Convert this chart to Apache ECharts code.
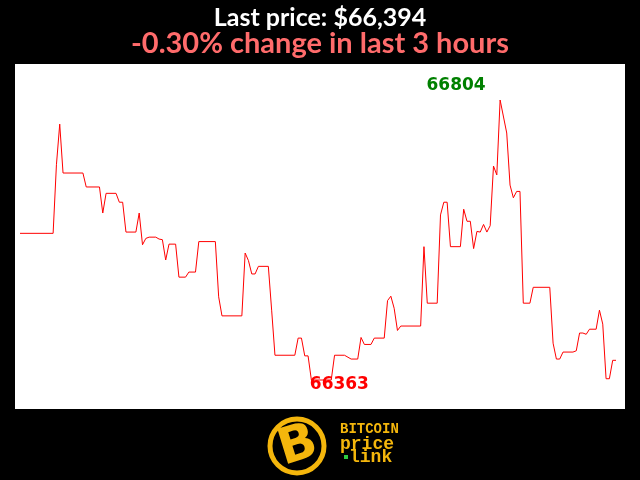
<!DOCTYPE html>
<html><head><meta charset="utf-8">
<script src="https://cdn.jsdelivr.net/npm/echarts@6/dist/echarts.min.js"></script>
<style>html,body{margin:0;padding:0;background:#000}#c{width:640px;height:480px}</style>
</head><body><div id="c"></div>
<script>
// minutes since start of the 3-hour window (vertices of the price line)
const minutes = [0,10,11,12,13,19,20,24,25,26,29,30,31,32,35,36,37,38,39,41,42,43,44,45,47,48,50,51,53,54,59,60,61,67,68,69,70,71,72,75,76,77,83,84,85,86,87,88,94,95,98,100,102,103,104,106,107,110,111,112,113,114,115,121,122,123,126,127,128,129,130,133,134,135,136,137,138,139,140,141,142,143,144,145,147,148,149,150,151,152,154,155,160,161,162,163,164,167,168,169,170,171,172,174,175,176,177,178,179,180];
const prices = [66594,66594,66702,66766,66689,66689,66667,66667,66626,66657,66657,66643,66643,66596,66596,66626,66576,66586,66588,66588,66585,66584,66552,66577,66577,66525,66525,66533,66533,66581,66581,66494,66464,66464,66563,66551,66530,66530,66542,66542,66473,66402,66402,66429,66429,66401,66401,66363,66363,66402,66402,66396,66396,66430,66419,66419,66429,66429,66488,66495,66476,66441,66448,66448,66573,66484,66484,66623,66643,66643,66573,66573,66632,66613,66613,66570,66597,66596,66608,66596,66606,66700,66686,66804,66752,66670,66650,66660,66660,66484,66484,66509,66509,66421,66396,66396,66407,66407,66409,66437,66437,66435,66443,66443,66473,66451,66365,66365,66394,66394];

const first = prices[0], last = prices[prices.length-1];
const changePct = (last - first) / first * 100;
const hi = Math.max(...prices), lo = Math.min(...prices);
const span = hi - lo;
const tMax = minutes[minutes.length-1];

const chart = echarts.init(document.getElementById('c'), null, {renderer:'canvas'});
const gold = '#f4b60c';
chart.setOption({
  backgroundColor: '#000',
  animation: false,
  title: [
    {text: 'Last price: $' + last.toLocaleString('en-US'), left: 'center', top: 0,
     textStyle: {color:'#fff', fontFamily:'Lato', fontWeight:'bold', fontSize:25}},
    {text: changePct.toFixed(2) + '% change in last 3 hours', left: 'center', top: 24,
     textStyle: {color:'#ff6b6b', fontFamily:'Lato', fontWeight:'bold', fontSize:29}}
  ],
  grid: {left:15, right:15, top:64, bottom:71, show:true, backgroundColor:'#fff', borderWidth:0},
  xAxis: {type:'value', min: -tMax*5/596, max: tMax + tMax*9/596, show:false},
  yAxis: {type:'value', min: lo - span*29/280, max: hi + span*36/280, show:false, splitLine:{show:false}},
  series: [{
    type:'line',
    data: minutes.map((m,i)=>[m, prices[i]]),
    showSymbol:false,
    lineStyle:{color:'#ff0000', width:1},
    markPoint:{
      symbol:'circle', symbolSize:1, itemStyle:{color:'rgba(0,0,0,0)'},
      label:{show:true, formatter: p => String(p.value), fontFamily:'DejaVu Sans', fontWeight:'bold', fontSize:17},
      data:[
        {type:'max', label:{color:'#008000', offset:[-44,-14]}},
        {type:'min', label:{color:'#ff0000', offset:[28,5]}}
      ]
    }
  }],
  graphic: [
    {type:'circle', shape:{cx:297, cy:446, r:27}, style:{fill:'#000', stroke:gold, lineWidth:5}},
    {type:'text', x:298, y:447, rotation:0.3, style:{text:'B', fill:gold, font:'bold 50px "DejaVu Sans"', align:'center', verticalAlign:'middle'}},
    {type:'text', x:340, y:429, style:{text:'BITCOIN', fill:gold, font:'bold 14px "Liberation Mono"', verticalAlign:'middle'}},
    {type:'text', x:340, y:444, style:{text:'price', fill:gold, font:'bold 18px "Liberation Mono"', verticalAlign:'middle'}},
    {type:'rect', shape:{x:344, y:455, width:4, height:4}, style:{fill:'#2ecc40'}},
    {type:'text', x:349, y:457, style:{text:'link', fill:gold, font:'bold 18px "Liberation Mono"', verticalAlign:'middle'}}
  ]
});
</script></body></html>
